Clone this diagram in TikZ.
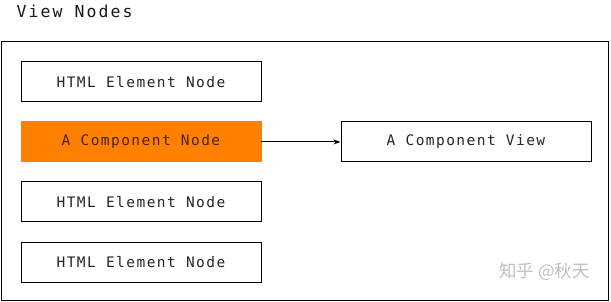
\documentclass[tikz,border=0pt]{standalone}
\usepackage{fontspec}
\newfontfamily\monofont[LetterSpace=10]{DejaVu Sans Mono}
\newfontfamily\titlefont[LetterSpace=12.5]{DejaVu Sans Mono}
\newfontfamily\cjk{Noto Sans CJK SC}
\usetikzlibrary{arrows.meta}
\begin{document}
\begin{tikzpicture}[x=1pt,y=-1pt,
  box/.style={draw=black, line width=0.9pt, minimum height=40pt, inner sep=0pt, anchor=north west,
    font=\monofont\fontsize{14.5}{17}\selectfont, text=black!85},
  conn/.style={draw=black, line width=0.9pt, -{Stealth[length=7pt,width=5pt]}}]
\useasboundingbox (0,0) rectangle (611,302);
\fill[white] (0,0) rectangle (611,302);
\node[anchor=base west, inner sep=0pt, font=\titlefont\fontsize{16.5}{19}\selectfont, text=black!90] (title) at (16.5,17.5) {View Nodes};
\draw[line width=0.9pt] (1.5,41.5) rectangle (608.5,300.5);
\node[box, minimum width=240pt] (h1) at (20.5,61.5) {HTML Element Node};
\node[box, minimum width=240pt, fill={rgb,255:red,255;green,128;blue,0}, draw={rgb,255:red,255;green,128;blue,0}, text={rgb,255:red,70;green,35;blue,10}] (comp) at (20.5,121.5) {A Component Node};
\node[box, minimum width=240pt] (h2) at (20.5,181.5) {HTML Element Node};
\node[box, minimum width=240pt] (h3) at (20.5,241.5) {HTML Element Node};
\node[box, minimum width=250pt] (view) at (340.5,121.5) {A Component View};
\draw[conn] (comp.east) -- (view.west);
\node[anchor=west, inner sep=0pt, font=\cjk\fontsize{17.5}{20}\selectfont, text=black!25] (wm) at (499,272) {知乎 @秋天};
\end{tikzpicture}
\end{document}
